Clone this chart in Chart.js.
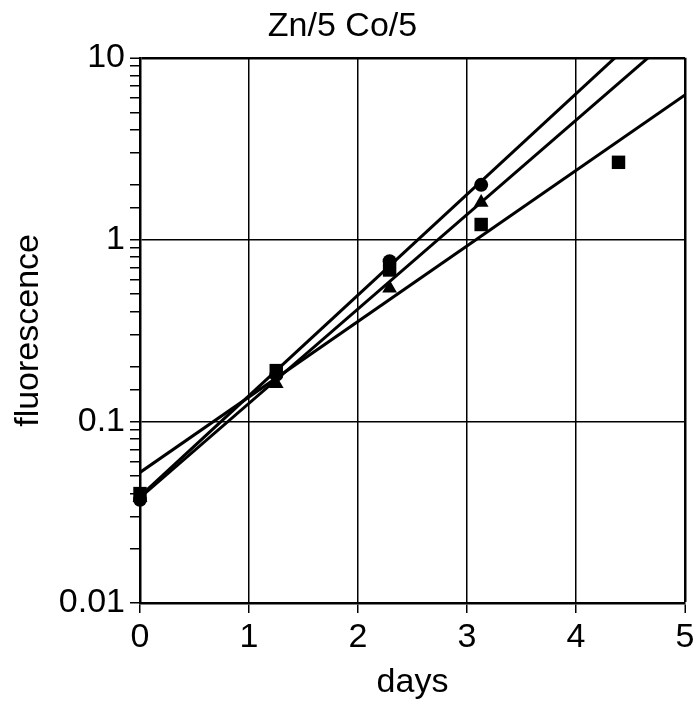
<!DOCTYPE html>
<html>
<head>
<meta charset="utf-8">
<script src="https://cdn.jsdelivr.net/npm/chart.js@4.4.1/dist/chart.umd.min.js"></script>
<style>
  html, body { margin: 0; padding: 0; background: #fff; }
  #wrap { width: 699px; height: 704px; }
</style>
</head>
<body>
<div id="wrap"><canvas id="c" width="699" height="704"></canvas></div>
<script>
// Measured fluorescence over time (days)
const circleDays = [0, 1.25, 2.29, 3.13];
const circleVals = [0.037, 0.18, 0.76, 2.0];

const triangleDays = [0, 1.25, 2.29, 3.13];
const triangleVals = [0.038, 0.161, 0.54, 1.6];

const squareDays = [0, 1.25, 2.29, 3.13, 4.39];
const squareVals = [0.040, 0.19, 0.68, 1.21, 2.66];

// Exponential fit lines, given by their values at day 0 and day 5
const fitDays = [0, 5];
const circleFit = [0.0386, 22.7];
const triangleFit = [0.038, 15.0];
const squareFit = [0.0523, 6.25];

// Axis ticks
const xTicks = [0, 1, 2, 3, 4, 5];
const yTickLabels = ['0.01', '0.1', '1', '10'];

const FONT = "'Liberation Sans', Arial, Helvetica, sans-serif";

function pts(xs, ys) { return xs.map((x, i) => ({ x: x, y: ys[i] })); }
function isDecade(v) {
  const l = Math.log10(v);
  return Math.abs(l - Math.round(l)) < 1e-6;
}

const markerBase = {
  type: 'scatter',
  showLine: false,
  backgroundColor: '#000',
  borderColor: '#000',
  borderWidth: 0,
  clip: false
};
const fitBase = {
  type: 'line',
  borderColor: '#000',
  borderWidth: 3,
  pointRadius: 0,
  fill: false,
  tension: 0,
  clip: 0
};

new Chart(document.getElementById('c'), {
  data: {
    datasets: [
      Object.assign({}, fitBase, { label: 'circle fit', data: pts(fitDays, circleFit) }),
      Object.assign({}, fitBase, { label: 'triangle fit', data: pts(fitDays, triangleFit) }),
      Object.assign({}, fitBase, { label: 'square fit', data: pts(fitDays, squareFit) }),
      Object.assign({}, markerBase, { label: 'circle', data: pts(circleDays, circleVals), pointStyle: 'circle', pointRadius: 7 }),
      Object.assign({}, markerBase, { label: 'triangle', data: pts(triangleDays, triangleVals), pointStyle: 'triangle', pointRadius: 8.5 }),
      Object.assign({}, markerBase, { label: 'square', data: pts(squareDays, squareVals), pointStyle: 'rect', pointRadius: 9.5 })
    ]
  },
  options: {
    responsive: false,
    animation: false,
    layout: { padding: { left: 0, right: 14, top: 0, bottom: 0 } },
    plugins: {
      legend: { display: false },
      tooltip: { enabled: false },
      title: {
        display: true,
        text: 'Zn/5 Co/5',
        color: '#000',
        font: { family: FONT, size: 34, weight: 'normal' },
        padding: { top: 6, bottom: 11 }
      }
    },
    scales: {
      x: {
        type: 'linear',
        min: 0,
        max: 5,
        afterFit: s => { s.height = 101; },
        afterBuildTicks: s => { s.ticks = xTicks.map(v => ({ value: v })); },
        border: { display: true, color: '#000', width: 2.5 },
        grid: {
          color: '#000',
          lineWidth: c => (c.tick && c.tick.value === 5 ? 2.5 : 1.5),
          drawTicks: true,
          tickLength: 10,
          tickColor: '#000',
          tickWidth: 1.5
        },
        ticks: {
          color: '#000',
          padding: 4,
          font: { family: FONT, size: 34 },
          callback: v => String(v)
        },
        title: {
          display: true,
          text: 'days',
          color: '#000',
          font: { family: FONT, size: 34 },
          padding: { top: 0, bottom: 1 }
        }
      },
      y: {
        type: 'logarithmic',
        min: 0.01,
        max: 10,
        afterFit: s => { s.width = 140; },
        border: { display: true, color: '#000', width: 2.5 },
        grid: {
          color: c => (c.tick && isDecade(c.tick.value) ? '#000' : 'rgba(0,0,0,0)'),
          lineWidth: c => (c.tick && Math.abs(c.tick.value - 10) < 1e-9 ? 2.5 : 1.5),
          drawTicks: true,
          tickLength: 10,
          tickColor: '#000',
          tickWidth: 1.5
        },
        ticks: {
          autoSkip: false,
          color: '#000',
          padding: 5,
          font: { family: FONT, size: 34 },
          callback: v => {
            const s = isDecade(v) ? String(Number(v.toPrecision(1))) : '';
            return yTickLabels.includes(s) ? s : '';
          }
        },
        title: {
          display: true,
          text: 'fluorescence',
          color: '#000',
          font: { family: FONT, size: 34 },
          padding: { top: 8, bottom: 0 }
        }
      }
    }
  }
});
</script>
</body>
</html>
